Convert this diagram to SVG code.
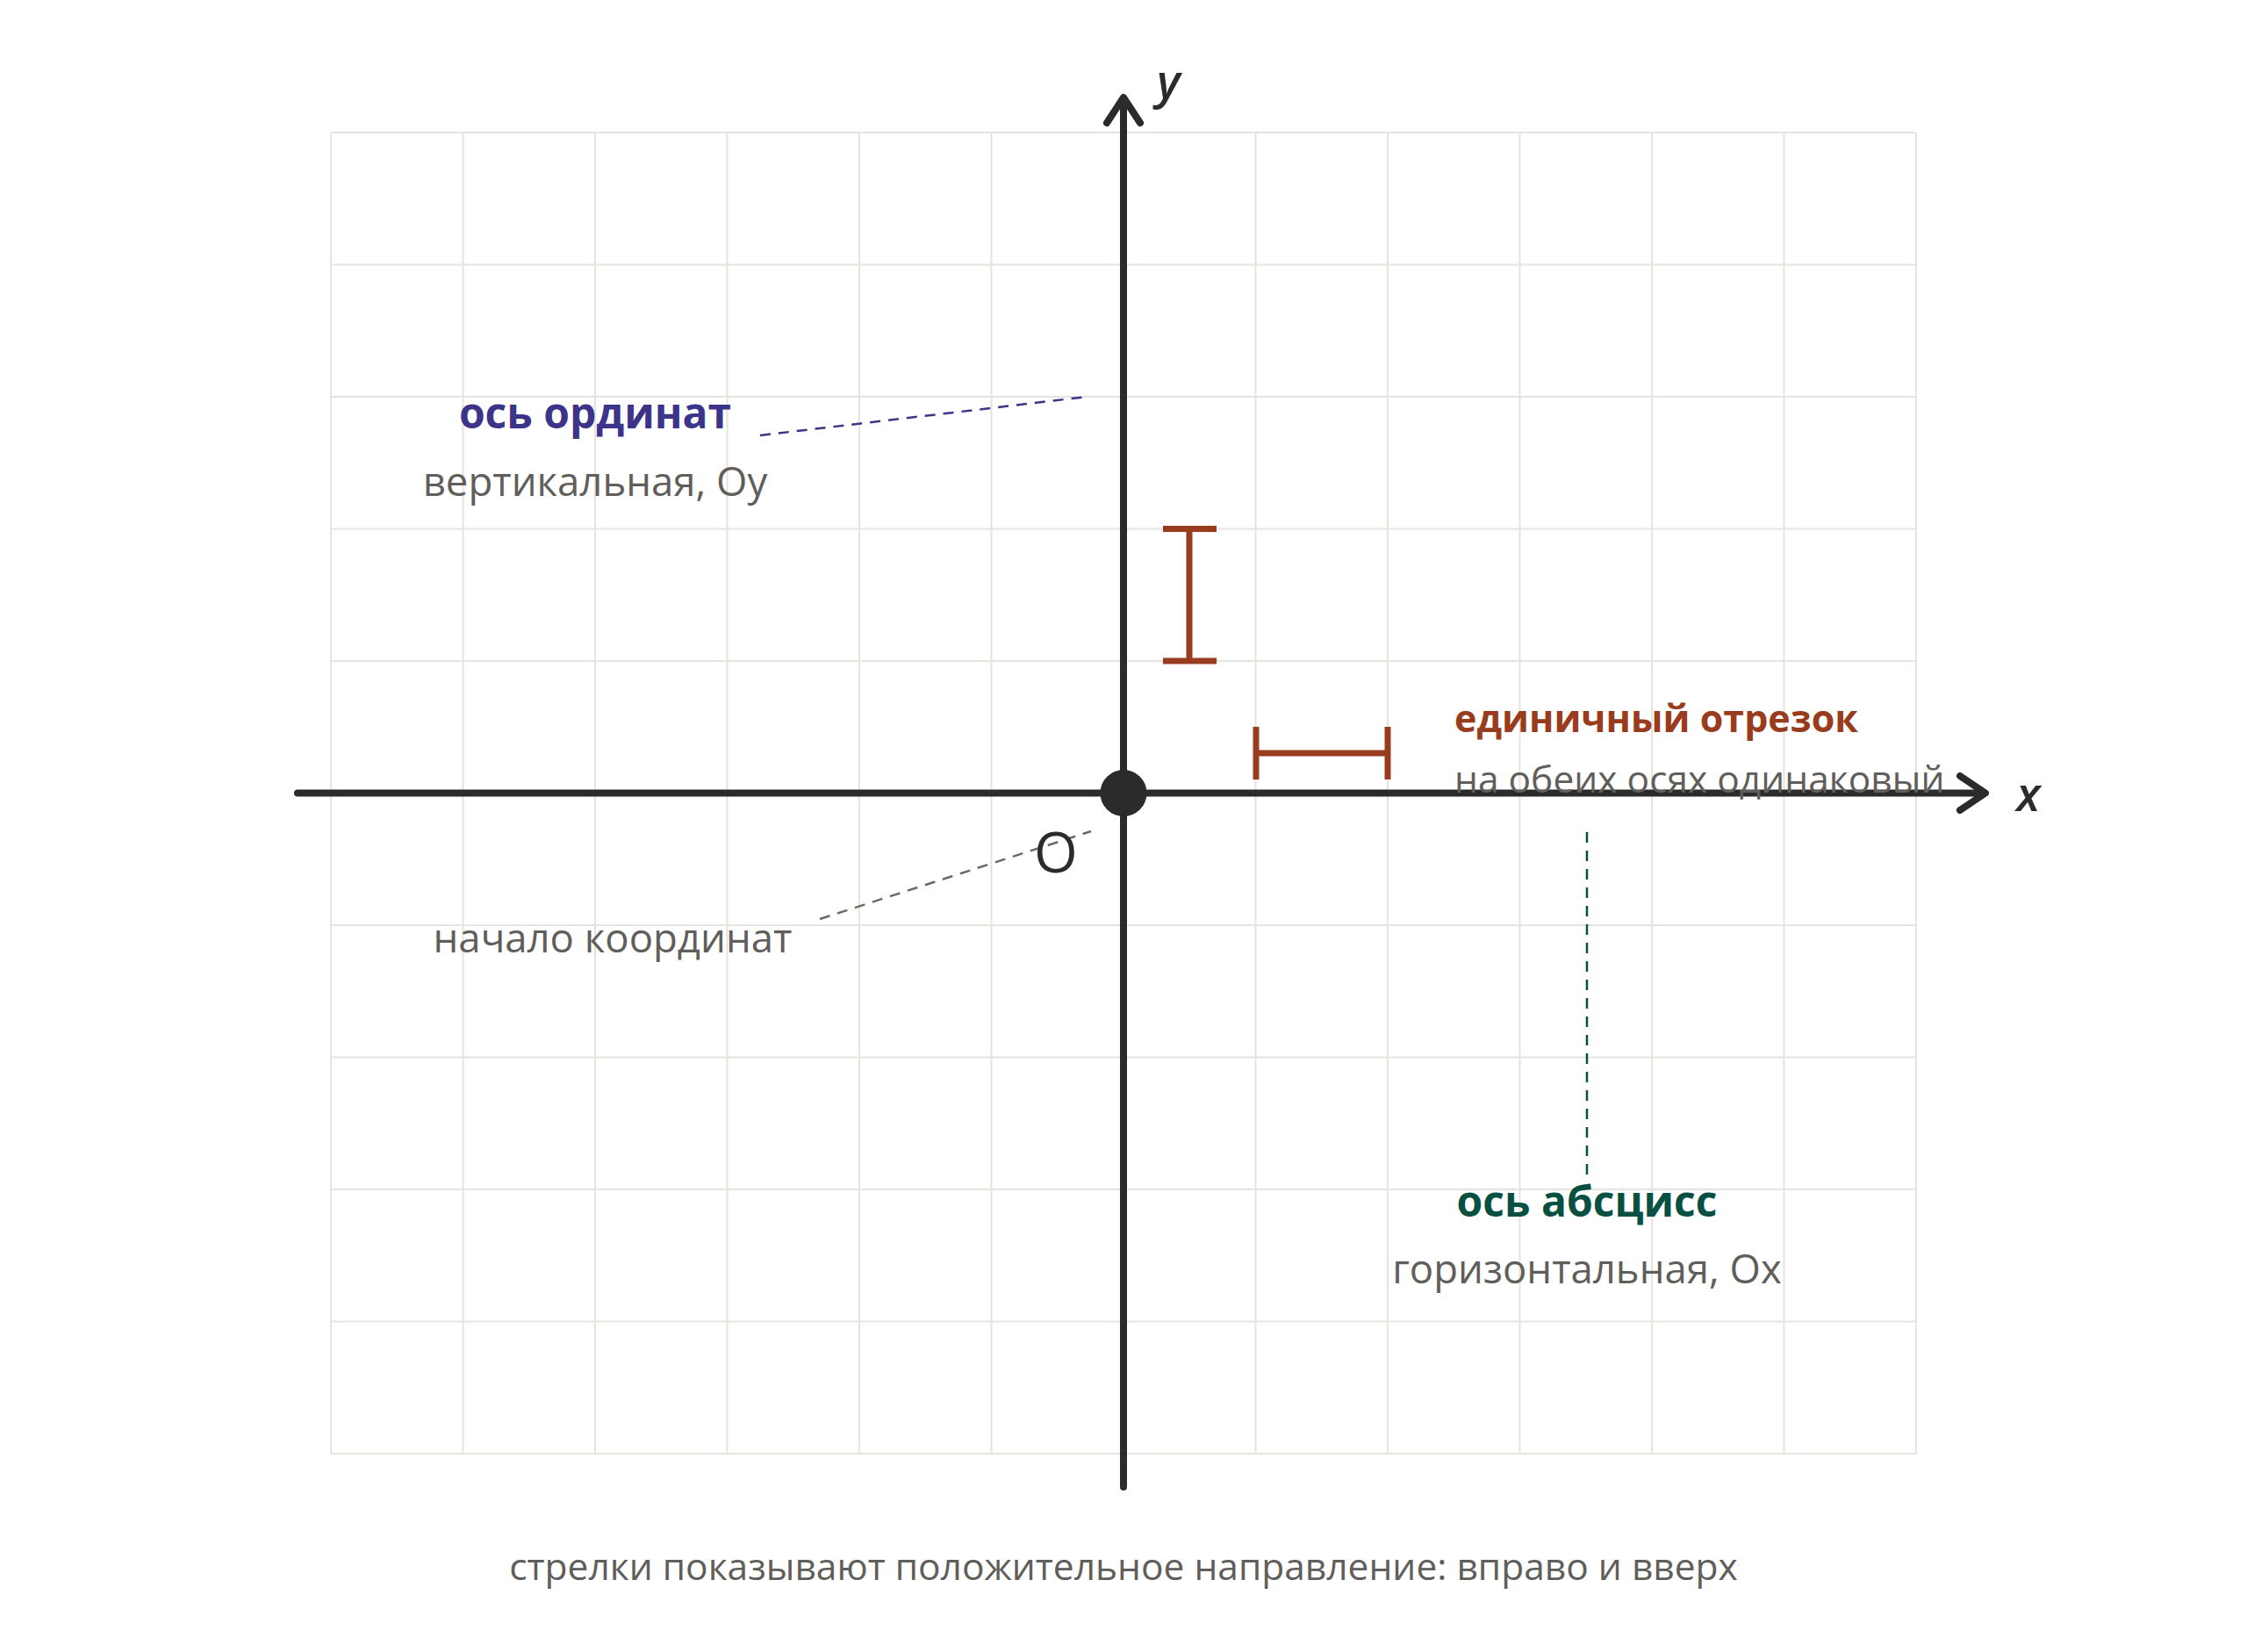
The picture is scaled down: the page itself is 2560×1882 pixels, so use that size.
<svg xmlns="http://www.w3.org/2000/svg" width="2560" height="1882" viewBox="0 0 2560 1882">
<style>
.grid line{stroke:#e6e4de;stroke-width:2}
.axis{stroke:#2b2b2b;stroke-width:8;fill:none;stroke-linecap:round;stroke-linejoin:round}
.unit{stroke:#993c1d;stroke-width:7;fill:none}
.t{font-family:"Open Sans","Noto Sans",sans-serif}
.title{font-size:48px;font-weight:700}
.title-s{font-size:43px;font-weight:700}
.sub{font-size:45.5px;fill:#5f5e5a}
.small{font-size:42.5px;fill:#5f5e5a}
.lbl{font-size:54px;font-style:italic;font-weight:600;fill:#2b2b2b}
</style>
<rect width="2560" height="1882" fill="#ffffff"/>
<g class="grid" id="grid">
<line x1="377" y1="151" x2="377" y2="1656"/>
<line x1="527.5" y1="151" x2="527.5" y2="1656"/>
<line x1="678" y1="151" x2="678" y2="1656"/>
<line x1="828.5" y1="151" x2="828.5" y2="1656"/>
<line x1="979" y1="151" x2="979" y2="1656"/>
<line x1="1129.5" y1="151" x2="1129.5" y2="1656"/>
<line x1="1430.5" y1="151" x2="1430.5" y2="1656"/>
<line x1="1581" y1="151" x2="1581" y2="1656"/>
<line x1="1731.5" y1="151" x2="1731.5" y2="1656"/>
<line x1="1882" y1="151" x2="1882" y2="1656"/>
<line x1="2032.5" y1="151" x2="2032.5" y2="1656"/>
<line x1="2183" y1="151" x2="2183" y2="1656"/>
<line x1="377" y1="151" x2="2183" y2="151"/>
<line x1="377" y1="301.5" x2="2183" y2="301.5"/>
<line x1="377" y1="452" x2="2183" y2="452"/>
<line x1="377" y1="602.5" x2="2183" y2="602.5"/>
<line x1="377" y1="753" x2="2183" y2="753"/>
<line x1="377" y1="1054" x2="2183" y2="1054"/>
<line x1="377" y1="1204.5" x2="2183" y2="1204.5"/>
<line x1="377" y1="1355" x2="2183" y2="1355"/>
<line x1="377" y1="1505.5" x2="2183" y2="1505.5"/>
<line x1="377" y1="1656" x2="2183" y2="1656"/>
</g>
<g id="connectors">
<line x1="866" y1="496" x2="1238" y2="452" stroke="#3c3489" stroke-width="2.5" stroke-dasharray="12 9"/>
<line x1="934" y1="1047" x2="1243" y2="947" stroke="#6b6a66" stroke-width="2.5" stroke-dasharray="12 9"/>
<line x1="1808" y1="948" x2="1808" y2="1345" stroke="#085041" stroke-width="2.5" stroke-dasharray="12 9"/>
</g>
<g id="axes">
<line class="axis" x1="339" y1="903.5" x2="2260" y2="903.5" stroke-linecap="butt"/>
<polyline class="axis" points="2233,884 2262,903.5 2233,923"/>
<line class="axis" x1="1280" y1="1694" x2="1280" y2="113" stroke-linecap="butt"/>
<polyline class="axis" points="1261,140 1280,111 1299,140"/>
</g>
<g id="origin">
<circle cx="1280" cy="903.5" r="26.5" fill="#2b2b2b"/>
<text class="t" x="1203" y="994" font-size="64" font-weight="500" text-anchor="middle" fill="#2b2b2b">O</text>
</g>
<g id="unit-y">
<line class="unit" x1="1355" y1="602.5" x2="1355" y2="753"/>
<line class="unit" x1="1325" y1="602.5" x2="1386" y2="602.5"/>
<line class="unit" x1="1325" y1="753" x2="1386" y2="753"/>
</g>
<g id="unit-x">
<line class="unit" x1="1431" y1="858" x2="1581" y2="858"/>
<line class="unit" x1="1431" y1="828" x2="1431" y2="888"/>
<line class="unit" x1="1581" y1="828" x2="1581" y2="888"/>
</g>
<g id="label-y"><text class="t lbl" x="1318" y="112">y</text></g>
<g id="label-x"><text class="t lbl" x="2311" y="924" text-anchor="middle">x</text></g>
<g id="node-ordinate">
<text class="t title" x="678" y="488" text-anchor="middle" fill="#3c3489">ось ординат</text>
<text class="t sub" x="678" y="565" text-anchor="middle">вертикальная, Оу</text>
</g>
<g id="node-unit">
<text class="t title-s" x="1657" y="834" fill="#993c1d">единичный отрезок</text>
<text class="t small" x="1657" y="903">на обеих осях одинаковый</text>
</g>
<g id="node-origin">
<text class="t sub" x="698" y="1085" text-anchor="middle">начало координат</text>
</g>
<g id="node-abscissa">
<text class="t title" x="1808" y="1386" text-anchor="middle" fill="#085041">ось абсцисс</text>
<text class="t sub" x="1808" y="1462" text-anchor="middle">горизонтальная, Ох</text>
</g>
<g id="caption">
<text class="t small" x="1280" y="1800" text-anchor="middle">стрелки показывают положительное направление: вправо и вверх</text>
</g>
</svg>
